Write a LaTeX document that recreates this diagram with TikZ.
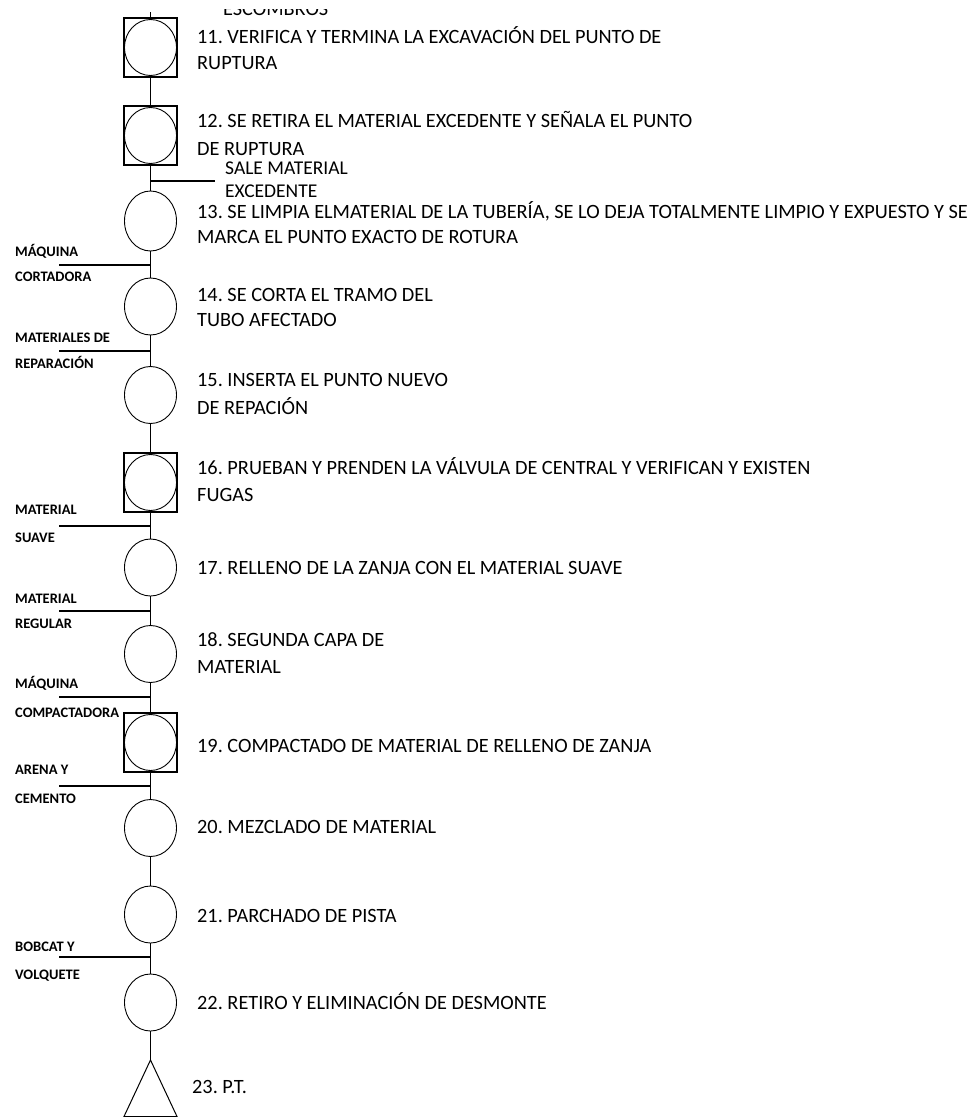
\documentclass[tikz,border=0pt]{standalone}
\usepackage{fontspec}
\setmainfont{Carlito}
\usetikzlibrary{shapes.geometric}
\begin{document}
\frenchspacing
\begin{tikzpicture}[x=1pt,y=-1pt,
  op/.style={draw,ellipse,minimum width=52pt,minimum height=57pt,inner sep=0pt,line width=0.9pt},
  sq/.style={draw,rectangle,minimum width=53pt,minimum height=59pt,inner sep=0pt,line width=1.1pt},
  tx/.style={anchor=base west,inner sep=0pt,text height=14pt,text depth=3pt,font=\fontsize{20.3}{24}\selectfont},
  sx/.style={anchor=base west,inner sep=0pt,font=\fontsize{19.5}{22}\selectfont},
  lb/.style={anchor=base west,inner sep=0pt,font=\bfseries\fontsize{14.5}{16}\selectfont},
  ln/.style={line width=1.2pt}]
\useasboundingbox (0,0) rectangle (979,1117);
\clip (0,0) rectangle (979,1117);
% operations
\node[sq] (s11) at (150.5,47.5) {};
\node[op,minimum height=56pt] (c11) at (150.5,47.5) {};
\node[sq] (s12) at (150.5,135.5) {};
\node[op,minimum height=56pt] (c12) at (150.5,135.5) {};
\node[op,minimum height=60pt] (c13) at (150.5,221) {};
\node[op] (c14) at (150.5,306.5) {};
\node[op] (c15) at (150.5,395) {};
\node[sq] (s16) at (150.5,482.5) {};
\node[op,minimum height=56pt] (c16) at (150.5,482.5) {};
\node[op] (c17) at (150.5,567.5) {};
\node[op] (c18) at (150.5,654) {};
\node[sq] (s19) at (150.5,742.5) {};
\node[op,minimum height=56pt] (c19) at (150.5,742.5) {};
\node[op] (c20) at (150.5,828) {};
\node[op] (c21) at (150.5,914.5) {};
\node[op] (c22) at (150.5,1002.5) {};
\coordinate (t23) at (150.5,1060);
\coordinate (t23r) at (177,1116.5);
\coordinate (t23l) at (124,1116.5);
\draw[line width=1pt] (t23) -- (t23r) -- (t23l) -- cycle;
% spine
\coordinate (top) at (150.5,12);
\draw[ln] (top) -- (s11.north);
\draw[ln] (s11.south) -- (s12.north);
\draw[ln] (s12.south) -- (c13.north);
\draw[ln] (c13.south) -- (c14.north);
\draw[ln] (c14.south) -- (c15.north);
\draw[ln] (c15.south) -- (s16.north);
\draw[ln] (s16.south) -- (c17.north);
\draw[ln] (c17.south) -- (c18.north);
\draw[ln] (c18.south) -- (s19.north);
\draw[ln] (s19.south) -- (c20.north);
\draw[ln] (c20.south) -- (c21.north);
\draw[ln] (c21.south) -- (c22.north);
\draw[ln] (c22.south) -- (t23);
% branches
\coordinate (b12) at (150.5,181); \coordinate (b12e) at (215,181);
\draw[ln] (b12) -- (b12e);
\foreach \n/\y in {a/265,b/351,c/526,d/611,e/697,f/786,g/957}{
  \coordinate (j\n) at (150.5,\y); \coordinate (k\n) at (59,\y);
  \draw[ln] (k\n) -- (j\n);
}
% main texts
\begin{scope}
\clip (0,9.5) rectangle (979,40);
\node[tx] (e10) at (223,15.5) {ESCOMBROS};
\end{scope}
\node[tx] (t11a) at (197,43.5) {11. VERIFICA Y TERMINA LA EXCAVACIÓN DEL PUNTO DE};
\node[tx] (t11b) at (197,69.5) {RUPTURA};
\node[tx] (t12a) at (197,127) {12. SE RETIRA EL MATERIAL EXCEDENTE Y SEÑALA EL PUNTO};
\node[tx] (t12b) at (197,155.5) {DE RUPTURA};
\node[sx] (x12a) at (225,174.5) {SALE MATERIAL};
\node[sx] (x12b) at (225,197.5) {EXCEDENTE};
\node[tx] (t13a) at (197,218) {13. SE LIMPIA ELMATERIAL DE LA TUBERÍA, SE LO DEJA TOTALMENTE LIMPIO Y EXPUESTO Y SE};
\node[tx] (t13b) at (197,243.5) {MARCA EL PUNTO EXACTO DE ROTURA};
\node[tx] (t14a) at (197,301) {14. SE CORTA EL TRAMO DEL};
\node[tx] (t14b) at (197,326) {TUBO AFECTADO};
\node[tx] (t15a) at (197,386) {15. INSERTA EL PUNTO NUEVO};
\node[tx] (t15b) at (197,414) {DE REPACIÓN};
\node[tx] (t16a) at (197,474) {16. PRUEBAN Y PRENDEN LA VÁLVULA DE CENTRAL Y VERIFICAN Y EXISTEN};
\node[tx] (t16b) at (197,501) {FUGAS};
\node[tx] (t17) at (197,574) {17. RELLENO DE LA ZANJA CON EL MATERIAL SUAVE};
\node[tx] (t18a) at (197,646) {18. SEGUNDA CAPA DE};
\node[tx] (t18b) at (197,673) {MATERIAL};
\node[tx] (t19) at (197,752) {19. COMPACTADO DE MATERIAL DE RELLENO DE ZANJA};
\node[tx] (t20) at (197,833) {20. MEZCLADO DE MATERIAL};
\node[tx] (t21) at (197,922) {21. PARCHADO DE PISTA};
\node[tx] (t22) at (197,1009) {22. RETIRO Y ELIMINACIÓN DE DESMONTE};
\node[tx] (t23t) at (192,1093) {23. P.T.};
% side labels
\node[lb] (la1) at (15,256) {MÁQUINA};
\node[lb] (la2) at (15,281) {CORTADORA};
\node[lb] (lb1) at (15,342) {MATERIALES DE};
\node[lb] (lb2) at (15,368) {REPARACIÓN};
\node[lb] (lc1) at (15,514) {MATERIAL};
\node[lb] (lc2) at (15,542) {SUAVE};
\node[lb] (ld1) at (15,603) {MATERIAL};
\node[lb] (ld2) at (15,628) {REGULAR};
\node[lb] (le1) at (15,688) {MÁQUINA};
\node[lb] (le2) at (15,717) {COMPACTADORA};
\node[lb] (lf1) at (15,774) {ARENA Y};
\node[lb] (lf2) at (15,803) {CEMENTO};
\node[lb] (lg1) at (15,951) {BOBCAT Y};
\node[lb] (lg2) at (15,979) {VOLQUETE};
\end{tikzpicture}
\end{document}
